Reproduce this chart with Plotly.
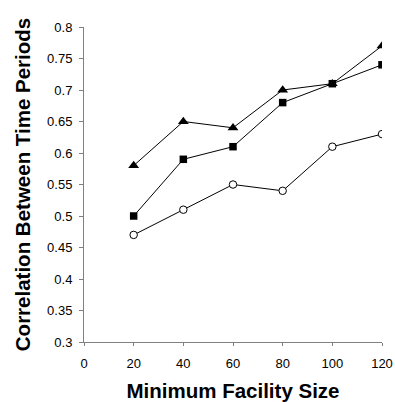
import plotly.graph_objects as go

x_sizes = [20, 40, 60, 80, 100, 120]
series_triangle = [0.58, 0.65, 0.64, 0.70, 0.71, 0.77]
series_square = [0.50, 0.59, 0.61, 0.68, 0.71, 0.74]
series_circle = [0.47, 0.51, 0.55, 0.54, 0.61, 0.63]
x_ticks = [0, 20, 40, 60, 80, 100, 120]
y_ticks = [0.3, 0.35, 0.4, 0.45, 0.5, 0.55, 0.6, 0.65, 0.7, 0.75, 0.8]
y_labels = ["0.3", "0.35", "0.4", "0.45", "0.5", "0.55", "0.6", "0.65", "0.7", "0.75", "0.8"]

fig = go.Figure()
fig.add_trace(go.Scatter(x=x_sizes, y=series_circle, mode="lines+markers",
                         line=dict(color="black", width=1),
                         marker=dict(symbol="circle", size=7.5, color="white",
                                     line=dict(color="black", width=1))))
fig.add_trace(go.Scatter(x=x_sizes, y=series_square, mode="lines+markers",
                         line=dict(color="black", width=1),
                         marker=dict(symbol="square", size=7.5, color="black")))
fig.add_trace(go.Scatter(x=x_sizes, y=series_triangle, mode="lines+markers",
                         line=dict(color="black", width=1),
                         marker=dict(symbol="triangle-up", size=9.5, color="black")))

font = "Liberation Sans, Arial, sans-serif"
fig.update_layout(
    width=395, height=402,
    margin=dict(l=84, r=13, t=27, b=60),
    paper_bgcolor="white", plot_bgcolor="white",
    showlegend=False,
    font=dict(family=font, size=12, color="black"),
)
fig.update_xaxes(range=[0, 120], tickvals=x_ticks, ticktext=[str(v) for v in x_ticks],
                 automargin=False,
                 showgrid=False, zeroline=False, showline=True, linecolor="#808080",
                 linewidth=1, ticks="outside", ticklen=3, tickcolor="#808080",
                 ticklabelstandoff=6,
                 tickfont=dict(size=13), title=dict(text="Minimum Facility Size",
                 font=dict(size=20.5, family=font, weight="bold"), standoff=14))
fig.update_yaxes(range=[0.3, 0.8], tickvals=y_ticks, ticktext=y_labels,
                 automargin=False,
                 showgrid=False, zeroline=False, showline=True, linecolor="#808080",
                 linewidth=1, ticks="outside", ticklen=4, tickcolor="#808080",
                 ticklabelstandoff=4,
                 tickfont=dict(size=13), title=dict(text="Correlation Between Time Periods",
                 font=dict(size=20.5, family=font, weight="bold"), standoff=10))

fig.write_html("out.html")
